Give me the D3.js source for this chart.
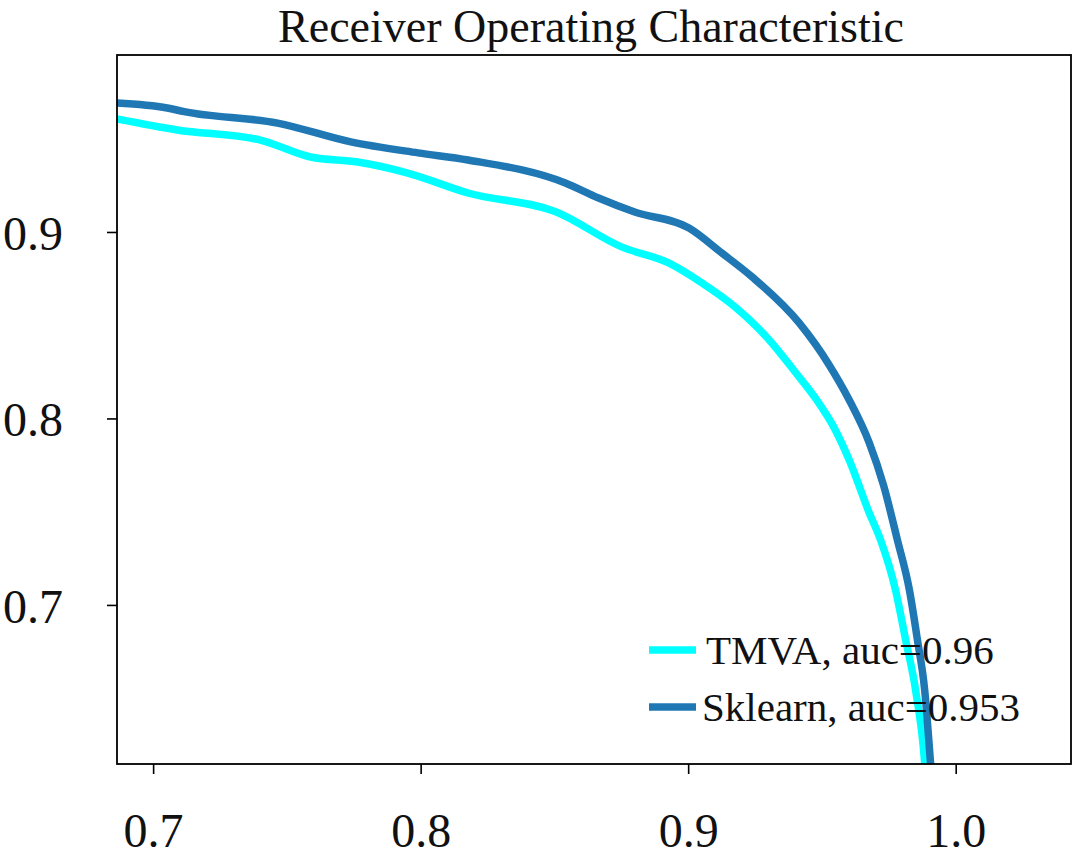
<!DOCTYPE html>
<html>
<head>
<meta charset="utf-8">
<script src="https://cdn.jsdelivr.net/npm/d3@7"></script>
<style>
  html, body { margin: 0; padding: 0; background: #fff; }
  svg { display: block; }
</style>
</head>
<body>
<div id="stage"></div>
<script>
// curve points (x = efficiency, y = rejection)
const sklearnX = [0.6865, 0.7053, 0.7116, 0.7465, 0.7739, 0.7990, 0.8177, 0.8541, 0.8665, 0.8800, 0.9003, 0.9126, 0.9239, 0.9415, 0.9527, 0.9602, 0.9677, 0.9730, 0.9782, 0.9827, 0.9857, 0.9884, 0.9906, 0.9914];
const sklearnY = [0.9692, 0.9665, 0.9645, 0.9584, 0.9483, 0.9424, 0.9386, 0.9263, 0.9182, 0.9107, 0.9021, 0.8887, 0.8759, 0.8512, 0.8287, 0.8099, 0.7869, 0.7643, 0.7349, 0.7080, 0.6812, 0.6544, 0.6153, 0.6008];
const tmvaX = [0.6865, 0.7090, 0.7401, 0.7589, 0.7765, 0.7952, 0.8177, 0.8507, 0.8751, 0.8927, 0.9051, 0.9175, 0.9303, 0.9400, 0.9475, 0.9550, 0.9602, 0.9677, 0.9719, 0.9775, 0.9813, 0.9850, 0.9884, 0.9891];
const tmvaY = [0.9606, 0.9547, 0.9493, 0.9402, 0.9375, 0.9316, 0.9209, 0.9107, 0.8920, 0.8834, 0.8727, 0.8598, 0.8421, 0.8249, 0.8110, 0.7938, 0.7777, 0.7493, 0.7349, 0.7080, 0.6812, 0.6544, 0.6153, 0.6008];
const xTicks = [0.7, 0.8, 0.9, 1.0];
const yTicks = [0.7, 0.8, 0.9];
const seriesNames = ['TMVA, auc=0.96', 'Sklearn, auc=0.953'];
const seriesColors = ['#00ffff', '#1f77b4'];

const W = 1076, H = 858, mL = 117, mR = 5, mT = 55, mB = 94;
const FONT = '"Liberation Serif", "DejaVu Serif", serif';

const svg = d3.select('#stage').append('svg').attr('width', W).attr('height', H);
const x = d3.scaleLinear().domain([0.6865, 1.0431]).range([mL, W - mR]);
const y = d3.scaleLinear().domain([0.6147, 0.9949]).range([H - mB, mT]);

svg.append('defs').append('clipPath').attr('id', 'plotClip').append('rect')
  .attr('x', mL).attr('y', mT).attr('width', W - mR - mL).attr('height', H - mB - mT);

const line = d3.line().x(d => x(d[0])).y(d => y(d[1])).curve(d3.curveMonotoneX);
const series = [d3.zip(tmvaX, tmvaY), d3.zip(sklearnX, sklearnY)];
series.forEach((pts, i) => {
  svg.append('path').datum(pts).attr('d', line).attr('fill', 'none')
    .attr('stroke', seriesColors[i]).attr('stroke-width', 7.5)
    .attr('stroke-linejoin', 'round').attr('clip-path', 'url(#plotClip)');
});

// frame
svg.append('rect').attr('x', mL).attr('y', mT).attr('width', W - mR - mL).attr('height', H - mB - mT)
  .attr('fill', 'none').attr('stroke', '#000').attr('stroke-width', 1.8);

const xAxis = svg.append('g').attr('transform', `translate(0,${H - mB})`)
  .call(d3.axisBottom(x).tickValues(xTicks).tickFormat(d3.format('.1f')).tickSize(10).tickPadding(39));
const yAxis = svg.append('g').attr('transform', `translate(${mL},0)`)
  .call(d3.axisLeft(y).tickValues(yTicks).tickFormat(d3.format('.1f')).tickSize(10).tickPadding(44));
[xAxis, yAxis].forEach(g => {
  g.select('.domain').remove();
  g.selectAll('.tick line').attr('stroke', '#000').attr('stroke-width', 1.6);
  g.selectAll('.tick text').attr('font-family', FONT).attr('font-size', 48).attr('fill', '#111');
});
yAxis.selectAll('.tick text').attr('dy', '0.36em');

svg.append('text').attr('x', 591).attr('y', 42).attr('text-anchor', 'middle')
  .attr('font-family', FONT).attr('font-size', 46).attr('fill', '#111')
  .text('Receiver Operating Characteristic');

// legend (no frame)
const legendY = [650, 707];
seriesNames.forEach((name, i) => {
  svg.append('line').attr('x1', 649).attr('x2', 696).attr('y1', legendY[i]).attr('y2', legendY[i])
    .attr('stroke', seriesColors[i]).attr('stroke-width', 7.5);
  svg.append('text').attr('x', i === 0 ? 706 : 702).attr('y', legendY[i] + 14)
    .attr('font-family', FONT).attr('font-size', 41).attr('fill', '#111').text(name);
});
</script>
</body>
</html>
